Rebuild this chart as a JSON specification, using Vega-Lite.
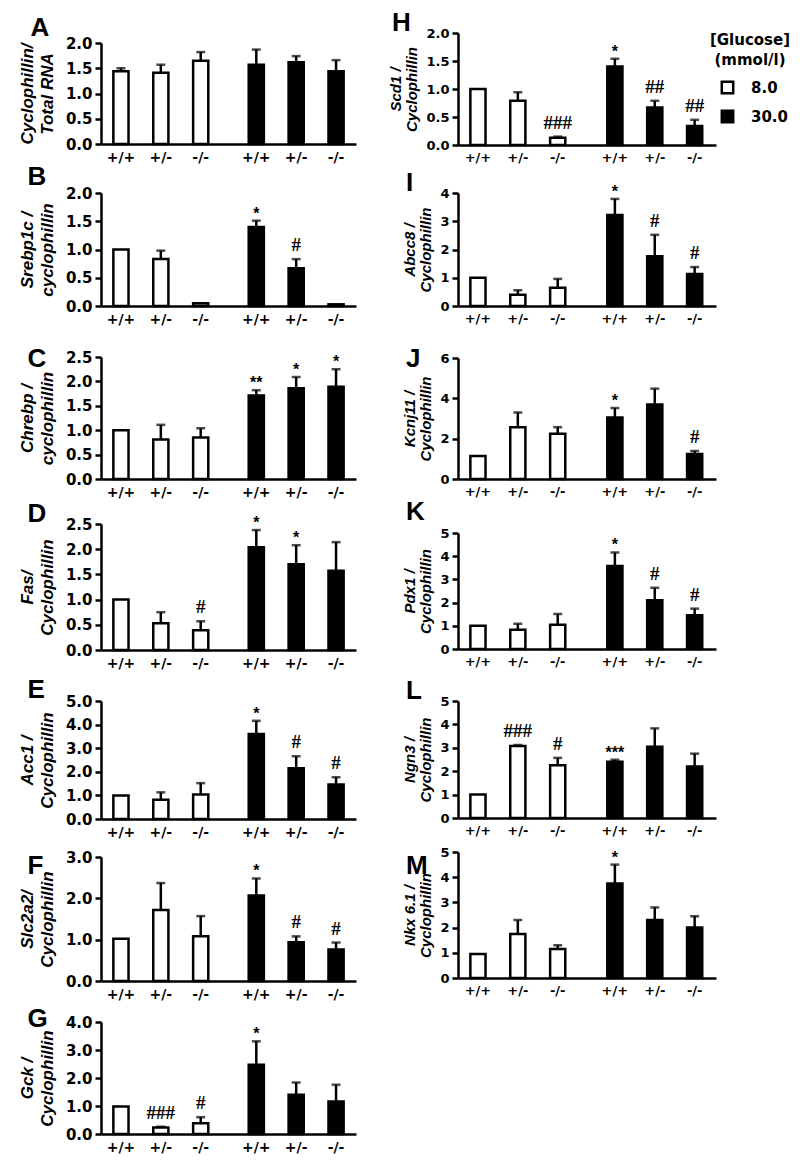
{
 "$schema": "https://vega.github.io/schema/vega-lite/v6.json",
 "background": "white",
 "padding": {"left": 18, "top": 9, "right": 5, "bottom": 5},
 "datasets": {"d": [
  {"p":"A","g":"8.0","k":"+/+","m":1.44,"e":1.50,"s":""},
  {"p":"A","g":"8.0","k":"+/-","m":1.41,"e":1.57,"s":""},
  {"p":"A","g":"8.0","k":"-/-","m":1.65,"e":1.82,"s":""},
  {"p":"A","g":"30.0","k":"+/+","m":1.57,"e":1.87,"s":""},
  {"p":"A","g":"30.0","k":"+/-","m":1.62,"e":1.74,"s":""},
  {"p":"A","g":"30.0","k":"-/-","m":1.44,"e":1.66,"s":""},
  {"p":"B","g":"8.0","k":"+/+","m":1.0,"e":null,"s":""},
  {"p":"B","g":"8.0","k":"+/-","m":0.83,"e":0.98,"s":""},
  {"p":"B","g":"8.0","k":"-/-","m":0.05,"e":null,"s":""},
  {"p":"B","g":"30.0","k":"+/+","m":1.40,"e":1.51,"s":"*"},
  {"p":"B","g":"30.0","k":"+/-","m":0.67,"e":0.83,"s":"#"},
  {"p":"B","g":"30.0","k":"-/-","m":0.03,"e":null,"s":""},
  {"p":"C","g":"8.0","k":"+/+","m":1.0,"e":null,"s":""},
  {"p":"C","g":"8.0","k":"+/-","m":0.81,"e":1.11,"s":""},
  {"p":"C","g":"8.0","k":"-/-","m":0.85,"e":1.04,"s":""},
  {"p":"C","g":"30.0","k":"+/+","m":1.71,"e":1.82,"s":"**"},
  {"p":"C","g":"30.0","k":"+/-","m":1.86,"e":2.09,"s":"*"},
  {"p":"C","g":"30.0","k":"-/-","m":1.89,"e":2.25,"s":"*"},
  {"p":"D","g":"8.0","k":"+/+","m":1.0,"e":null,"s":""},
  {"p":"D","g":"8.0","k":"+/-","m":0.53,"e":0.75,"s":""},
  {"p":"D","g":"8.0","k":"-/-","m":0.39,"e":0.57,"s":"#"},
  {"p":"D","g":"30.0","k":"+/+","m":2.04,"e":2.38,"s":"*"},
  {"p":"D","g":"30.0","k":"+/-","m":1.70,"e":2.08,"s":"*"},
  {"p":"D","g":"30.0","k":"-/-","m":1.57,"e":2.14,"s":""},
  {"p":"E","g":"8.0","k":"+/+","m":1.0,"e":null,"s":""},
  {"p":"E","g":"8.0","k":"+/-","m":0.82,"e":1.13,"s":""},
  {"p":"E","g":"8.0","k":"-/-","m":1.04,"e":1.52,"s":""},
  {"p":"E","g":"30.0","k":"+/+","m":3.60,"e":4.16,"s":"*"},
  {"p":"E","g":"30.0","k":"+/-","m":2.15,"e":2.66,"s":"#"},
  {"p":"E","g":"30.0","k":"-/-","m":1.46,"e":1.77,"s":"#"},
  {"p":"F","g":"8.0","k":"+/+","m":1.02,"e":null,"s":""},
  {"p":"F","g":"8.0","k":"+/-","m":1.72,"e":2.37,"s":""},
  {"p":"F","g":"8.0","k":"-/-","m":1.08,"e":1.57,"s":""},
  {"p":"F","g":"30.0","k":"+/+","m":2.07,"e":2.48,"s":"*"},
  {"p":"F","g":"30.0","k":"+/-","m":0.94,"e":1.08,"s":"#"},
  {"p":"F","g":"30.0","k":"-/-","m":0.76,"e":0.93,"s":"#"},
  {"p":"G","g":"8.0","k":"+/+","m":0.98,"e":null,"s":""},
  {"p":"G","g":"8.0","k":"+/-","m":0.23,"e":0.26,"s":"###"},
  {"p":"G","g":"8.0","k":"-/-","m":0.38,"e":0.60,"s":"#"},
  {"p":"G","g":"30.0","k":"+/+","m":2.47,"e":3.31,"s":"*"},
  {"p":"G","g":"30.0","k":"+/-","m":1.40,"e":1.84,"s":""},
  {"p":"G","g":"30.0","k":"-/-","m":1.16,"e":1.76,"s":""},
  {"p":"H","g":"8.0","k":"+/+","m":1.0,"e":null,"s":""},
  {"p":"H","g":"8.0","k":"+/-","m":0.79,"e":0.94,"s":""},
  {"p":"H","g":"8.0","k":"-/-","m":0.13,"e":0.15,"s":"###"},
  {"p":"H","g":"30.0","k":"+/+","m":1.40,"e":1.54,"s":"*"},
  {"p":"H","g":"30.0","k":"+/-","m":0.67,"e":0.79,"s":"##"},
  {"p":"H","g":"30.0","k":"-/-","m":0.34,"e":0.45,"s":"##"},
  {"p":"I","g":"8.0","k":"+/+","m":1.0,"e":null,"s":""},
  {"p":"I","g":"8.0","k":"+/-","m":0.40,"e":0.56,"s":""},
  {"p":"I","g":"8.0","k":"-/-","m":0.65,"e":0.96,"s":""},
  {"p":"I","g":"30.0","k":"+/+","m":3.22,"e":3.79,"s":"*"},
  {"p":"I","g":"30.0","k":"+/-","m":1.76,"e":2.52,"s":"#"},
  {"p":"I","g":"30.0","k":"-/-","m":1.13,"e":1.38,"s":"#"},
  {"p":"J","g":"8.0","k":"+/+","m":1.14,"e":null,"s":""},
  {"p":"J","g":"8.0","k":"+/-","m":2.57,"e":3.30,"s":""},
  {"p":"J","g":"8.0","k":"-/-","m":2.25,"e":2.57,"s":""},
  {"p":"J","g":"30.0","k":"+/+","m":3.05,"e":3.52,"s":"*"},
  {"p":"J","g":"30.0","k":"+/-","m":3.70,"e":4.48,"s":""},
  {"p":"J","g":"30.0","k":"-/-","m":1.24,"e":1.39,"s":"#"},
  {"p":"K","g":"8.0","k":"+/+","m":1.0,"e":null,"s":""},
  {"p":"K","g":"8.0","k":"+/-","m":0.83,"e":1.09,"s":""},
  {"p":"K","g":"8.0","k":"-/-","m":1.04,"e":1.51,"s":""},
  {"p":"K","g":"30.0","k":"+/+","m":3.58,"e":4.16,"s":"*"},
  {"p":"K","g":"30.0","k":"+/-","m":2.10,"e":2.64,"s":"#"},
  {"p":"K","g":"30.0","k":"-/-","m":1.45,"e":1.74,"s":"#"},
  {"p":"L","g":"8.0","k":"+/+","m":1.0,"e":null,"s":""},
  {"p":"L","g":"8.0","k":"+/-","m":3.08,"e":3.12,"s":"###"},
  {"p":"L","g":"8.0","k":"-/-","m":2.25,"e":2.57,"s":"#"},
  {"p":"L","g":"30.0","k":"+/+","m":2.40,"e":2.49,"s":"***"},
  {"p":"L","g":"30.0","k":"+/-","m":3.05,"e":3.83,"s":""},
  {"p":"L","g":"30.0","k":"-/-","m":2.20,"e":2.75,"s":""},
  {"p":"M","g":"8.0","k":"+/+","m":0.95,"e":null,"s":""},
  {"p":"M","g":"8.0","k":"+/-","m":1.75,"e":2.30,"s":""},
  {"p":"M","g":"8.0","k":"-/-","m":1.15,"e":1.30,"s":""},
  {"p":"M","g":"30.0","k":"+/+","m":3.75,"e":4.50,"s":"*"},
  {"p":"M","g":"30.0","k":"+/-","m":2.30,"e":2.80,"s":""},
  {"p":"M","g":"30.0","k":"-/-","m":2.00,"e":2.45,"s":""}
 ]},
 "data": {"name": "d"},
 "spacing": 32,
 "hconcat": [
  {"spacing": 0, "bounds": "flush", "vconcat": [
   {"width": 255, "height": 10, "data": {"values": []}, "mark": "point"},
   {"title": {"text": "A", "offset": -4.5, "dx": 12}, "width": 255, "height": 101,
    "transform": [{"filter": "datum.p == 'A'"}],
    "encoding": {"x": {"field": "g", "type": "nominal", "sort": ["8.0","30.0"], "scale": {"paddingInner": 0.116, "paddingOuter": 0}, "axis": {"labels": false, "ticks": false, "title": null}},
                 "xOffset": {"field": "k", "type": "nominal", "sort": ["+/+","+/-","-/-"], "scale": {"paddingInner": 0.62, "paddingOuter": 0.31}},
                 "y": {"field": "m", "type": "quantitative", "scale": {"domain": [0,2], "nice": false}, "axis": {"values": [0,0.5,1,1.5,2], "format": ".1f", "labelOverlap": false, "title": ["Cyclophillin/","Total RNA"]}}},
    "layer": [
     {"mark": {"type": "bar", "stroke": "black", "strokeWidth": 2.5}, "encoding": {"fill": {"field": "g", "type": "nominal", "scale": {"domain": ["8.0","30.0"], "range": ["white","black"]}, "legend": {"title": ["[Glucose]","(mmol/l)"]}}}},
     {"transform": [{"filter": "isValid(datum.e)"}], "mark": {"type": "rule", "color": "black", "strokeWidth": 2.5}, "encoding": {"y2": {"field": "e"}}},
     {"transform": [{"filter": "isValid(datum.e)"}], "mark": {"type": "tick", "orient": "horizontal", "color": "black", "size": 9, "thickness": 2.5}, "encoding": {"y": {"field": "e", "type": "quantitative", "axis": {"values": [0,0.5,1,1.5,2], "format": ".1f", "labelOverlap": false, "title": ["Cyclophillin/","Total RNA"]}}}},
     {"mark": {"type": "text", "fontWeight": "bold", "fontSize": 14, "baseline": "top", "dy": 7, "color": "black"}, "encoding": {"y": {"datum": 0, "type": "quantitative", "axis": {"values": [0,0.5,1,1.5,2], "format": ".1f", "labelOverlap": false, "title": ["Cyclophillin/","Total RNA"]}}, "text": {"field": "k"}}}
    ]},
   {"width": 255, "height": 49, "data": {"values": []}, "mark": "point"},
   {"title": {"text": "B", "offset": -3.5, "dx": 9}, "width": 255, "height": 113,
    "transform": [{"filter": "datum.p == 'B'"}],
    "encoding": {"x": {"field": "g", "type": "nominal", "sort": ["8.0","30.0"], "scale": {"paddingInner": 0.116, "paddingOuter": 0}, "axis": {"labels": false, "ticks": false, "title": null}},
                 "xOffset": {"field": "k", "type": "nominal", "sort": ["+/+","+/-","-/-"], "scale": {"paddingInner": 0.62, "paddingOuter": 0.31}},
                 "y": {"field": "m", "type": "quantitative", "scale": {"domain": [0,2], "nice": false}, "axis": {"values": [0,0.5,1,1.5,2], "format": ".1f", "labelOverlap": false, "title": ["Srebp1c /","cyclophillin"]}}},
    "layer": [
     {"mark": {"type": "bar", "stroke": "black", "strokeWidth": 2.5}, "encoding": {"fill": {"field": "g", "type": "nominal", "scale": {"domain": ["8.0","30.0"], "range": ["white","black"]}, "legend": {"title": ["[Glucose]","(mmol/l)"]}}}},
     {"transform": [{"filter": "isValid(datum.e)"}], "mark": {"type": "rule", "color": "black", "strokeWidth": 2.5}, "encoding": {"y2": {"field": "e"}}},
     {"transform": [{"filter": "isValid(datum.e)"}], "mark": {"type": "tick", "orient": "horizontal", "color": "black", "size": 9, "thickness": 2.5}, "encoding": {"y": {"field": "e", "type": "quantitative", "axis": {"values": [0,0.5,1,1.5,2], "format": ".1f", "labelOverlap": false, "title": ["Srebp1c /","cyclophillin"]}}}},
     {"transform": [{"filter": "indexof(datum.s, '*') >= 0"}], "mark": {"type": "text", "font": "Liberation Sans", "fontWeight": "bold", "fontSize": 16, "baseline": "alphabetic", "dy": -2, "color": "black"}, "encoding": {"y": {"field": "e", "type": "quantitative", "axis": {"values": [0,0.5,1,1.5,2], "format": ".1f", "labelOverlap": false, "title": ["Srebp1c /","cyclophillin"]}}, "text": {"field": "s"}}},
     {"transform": [{"filter": "indexof(datum.s, '#') >= 0"}], "mark": {"type": "text", "font": "Liberation Serif", "fontWeight": "bold", "fontSize": 19, "baseline": "alphabetic", "dy": -8, "color": "black"}, "encoding": {"y": {"field": "e", "type": "quantitative", "axis": {"values": [0,0.5,1,1.5,2], "format": ".1f", "labelOverlap": false, "title": ["Srebp1c /","cyclophillin"]}}, "text": {"field": "s"}}},
     {"mark": {"type": "text", "fontWeight": "bold", "fontSize": 14, "baseline": "top", "dy": 7, "color": "black"}, "encoding": {"y": {"datum": 0, "type": "quantitative", "axis": {"values": [0,0.5,1,1.5,2], "format": ".1f", "labelOverlap": false, "title": ["Srebp1c /","cyclophillin"]}}, "text": {"field": "k"}}}
    ]},
   {"width": 255, "height": 51, "data": {"values": []}, "mark": "point"},
   {"title": {"text": "C", "offset": -21.5, "dx": 9}, "width": 255, "height": 122,
    "transform": [{"filter": "datum.p == 'C'"}],
    "encoding": {"x": {"field": "g", "type": "nominal", "sort": ["8.0","30.0"], "scale": {"paddingInner": 0.116, "paddingOuter": 0}, "axis": {"labels": false, "ticks": false, "title": null}},
                 "xOffset": {"field": "k", "type": "nominal", "sort": ["+/+","+/-","-/-"], "scale": {"paddingInner": 0.62, "paddingOuter": 0.31}},
                 "y": {"field": "m", "type": "quantitative", "scale": {"domain": [0,2.5], "nice": false}, "axis": {"values": [0,0.5,1,1.5,2,2.5], "format": ".1f", "labelOverlap": false, "title": ["Chrebp /","cyclophillin"]}}},
    "layer": [
     {"mark": {"type": "bar", "stroke": "black", "strokeWidth": 2.5}, "encoding": {"fill": {"field": "g", "type": "nominal", "scale": {"domain": ["8.0","30.0"], "range": ["white","black"]}, "legend": {"title": ["[Glucose]","(mmol/l)"]}}}},
     {"transform": [{"filter": "isValid(datum.e)"}], "mark": {"type": "rule", "color": "black", "strokeWidth": 2.5}, "encoding": {"y2": {"field": "e"}}},
     {"transform": [{"filter": "isValid(datum.e)"}], "mark": {"type": "tick", "orient": "horizontal", "color": "black", "size": 9, "thickness": 2.5}, "encoding": {"y": {"field": "e", "type": "quantitative", "axis": {"values": [0,0.5,1,1.5,2,2.5], "format": ".1f", "labelOverlap": false, "title": ["Chrebp /","cyclophillin"]}}}},
     {"transform": [{"filter": "indexof(datum.s, '*') >= 0"}], "mark": {"type": "text", "font": "Liberation Sans", "fontWeight": "bold", "fontSize": 16, "baseline": "alphabetic", "dy": -2, "color": "black"}, "encoding": {"y": {"field": "e", "type": "quantitative", "axis": {"values": [0,0.5,1,1.5,2,2.5], "format": ".1f", "labelOverlap": false, "title": ["Chrebp /","cyclophillin"]}}, "text": {"field": "s"}}},
     {"mark": {"type": "text", "fontWeight": "bold", "fontSize": 14, "baseline": "top", "dy": 7, "color": "black"}, "encoding": {"y": {"datum": 0, "type": "quantitative", "axis": {"values": [0,0.5,1,1.5,2,2.5], "format": ".1f", "labelOverlap": false, "title": ["Chrebp /","cyclophillin"]}}, "text": {"field": "k"}}}
    ]},
   {"width": 255, "height": 45, "data": {"values": []}, "mark": "point"},
   {"title": {"text": "D", "offset": -12, "dx": 9}, "width": 255, "height": 126,
    "transform": [{"filter": "datum.p == 'D'"}],
    "encoding": {"x": {"field": "g", "type": "nominal", "sort": ["8.0","30.0"], "scale": {"paddingInner": 0.116, "paddingOuter": 0}, "axis": {"labels": false, "ticks": false, "title": null}},
                 "xOffset": {"field": "k", "type": "nominal", "sort": ["+/+","+/-","-/-"], "scale": {"paddingInner": 0.62, "paddingOuter": 0.31}},
                 "y": {"field": "m", "type": "quantitative", "scale": {"domain": [0,2.5], "nice": false}, "axis": {"values": [0,0.5,1,1.5,2,2.5], "format": ".1f", "labelOverlap": false, "title": ["Fas/","Cyclophillin"]}}},
    "layer": [
     {"mark": {"type": "bar", "stroke": "black", "strokeWidth": 2.5}, "encoding": {"fill": {"field": "g", "type": "nominal", "scale": {"domain": ["8.0","30.0"], "range": ["white","black"]}, "legend": {"title": ["[Glucose]","(mmol/l)"]}}}},
     {"transform": [{"filter": "isValid(datum.e)"}], "mark": {"type": "rule", "color": "black", "strokeWidth": 2.5}, "encoding": {"y2": {"field": "e"}}},
     {"transform": [{"filter": "isValid(datum.e)"}], "mark": {"type": "tick", "orient": "horizontal", "color": "black", "size": 9, "thickness": 2.5}, "encoding": {"y": {"field": "e", "type": "quantitative", "axis": {"values": [0,0.5,1,1.5,2,2.5], "format": ".1f", "labelOverlap": false, "title": ["Fas/","Cyclophillin"]}}}},
     {"transform": [{"filter": "indexof(datum.s, '*') >= 0"}], "mark": {"type": "text", "font": "Liberation Sans", "fontWeight": "bold", "fontSize": 16, "baseline": "alphabetic", "dy": -2, "color": "black"}, "encoding": {"y": {"field": "e", "type": "quantitative", "axis": {"values": [0,0.5,1,1.5,2,2.5], "format": ".1f", "labelOverlap": false, "title": ["Fas/","Cyclophillin"]}}, "text": {"field": "s"}}},
     {"transform": [{"filter": "indexof(datum.s, '#') >= 0"}], "mark": {"type": "text", "font": "Liberation Serif", "fontWeight": "bold", "fontSize": 19, "baseline": "alphabetic", "dy": -8, "color": "black"}, "encoding": {"y": {"field": "e", "type": "quantitative", "axis": {"values": [0,0.5,1,1.5,2,2.5], "format": ".1f", "labelOverlap": false, "title": ["Fas/","Cyclophillin"]}}, "text": {"field": "s"}}},
     {"mark": {"type": "text", "fontWeight": "bold", "fontSize": 14, "baseline": "top", "dy": 7, "color": "black"}, "encoding": {"y": {"datum": 0, "type": "quantitative", "axis": {"values": [0,0.5,1,1.5,2,2.5], "format": ".1f", "labelOverlap": false, "title": ["Fas/","Cyclophillin"]}}, "text": {"field": "k"}}}
    ]},
   {"width": 255, "height": 51, "data": {"values": []}, "mark": "point"},
   {"title": {"text": "E", "offset": -8.5, "dx": 9}, "width": 255, "height": 118,
    "transform": [{"filter": "datum.p == 'E'"}],
    "encoding": {"x": {"field": "g", "type": "nominal", "sort": ["8.0","30.0"], "scale": {"paddingInner": 0.116, "paddingOuter": 0}, "axis": {"labels": false, "ticks": false, "title": null}},
                 "xOffset": {"field": "k", "type": "nominal", "sort": ["+/+","+/-","-/-"], "scale": {"paddingInner": 0.62, "paddingOuter": 0.31}},
                 "y": {"field": "m", "type": "quantitative", "scale": {"domain": [0,5], "nice": false}, "axis": {"values": [0,1,2,3,4,5], "format": ".1f", "labelOverlap": false, "title": ["Acc1 /","Cyclophillin"]}}},
    "layer": [
     {"mark": {"type": "bar", "stroke": "black", "strokeWidth": 2.5}, "encoding": {"fill": {"field": "g", "type": "nominal", "scale": {"domain": ["8.0","30.0"], "range": ["white","black"]}, "legend": {"title": ["[Glucose]","(mmol/l)"]}}}},
     {"transform": [{"filter": "isValid(datum.e)"}], "mark": {"type": "rule", "color": "black", "strokeWidth": 2.5}, "encoding": {"y2": {"field": "e"}}},
     {"transform": [{"filter": "isValid(datum.e)"}], "mark": {"type": "tick", "orient": "horizontal", "color": "black", "size": 9, "thickness": 2.5}, "encoding": {"y": {"field": "e", "type": "quantitative", "axis": {"values": [0,1,2,3,4,5], "format": ".1f", "labelOverlap": false, "title": ["Acc1 /","Cyclophillin"]}}}},
     {"transform": [{"filter": "indexof(datum.s, '*') >= 0"}], "mark": {"type": "text", "font": "Liberation Sans", "fontWeight": "bold", "fontSize": 16, "baseline": "alphabetic", "dy": -2, "color": "black"}, "encoding": {"y": {"field": "e", "type": "quantitative", "axis": {"values": [0,1,2,3,4,5], "format": ".1f", "labelOverlap": false, "title": ["Acc1 /","Cyclophillin"]}}, "text": {"field": "s"}}},
     {"transform": [{"filter": "indexof(datum.s, '#') >= 0"}], "mark": {"type": "text", "font": "Liberation Serif", "fontWeight": "bold", "fontSize": 19, "baseline": "alphabetic", "dy": -8, "color": "black"}, "encoding": {"y": {"field": "e", "type": "quantitative", "axis": {"values": [0,1,2,3,4,5], "format": ".1f", "labelOverlap": false, "title": ["Acc1 /","Cyclophillin"]}}, "text": {"field": "s"}}},
     {"mark": {"type": "text", "fontWeight": "bold", "fontSize": 14, "baseline": "top", "dy": 7, "color": "black"}, "encoding": {"y": {"datum": 0, "type": "quantitative", "axis": {"values": [0,1,2,3,4,5], "format": ".1f", "labelOverlap": false, "title": ["Acc1 /","Cyclophillin"]}}, "text": {"field": "k"}}}
    ]},
   {"width": 255, "height": 38, "data": {"values": []}, "mark": "point"},
   {"title": {"text": "F", "offset": -28.5, "dx": 9}, "width": 255, "height": 124,
    "transform": [{"filter": "datum.p == 'F'"}],
    "encoding": {"x": {"field": "g", "type": "nominal", "sort": ["8.0","30.0"], "scale": {"paddingInner": 0.116, "paddingOuter": 0}, "axis": {"labels": false, "ticks": false, "title": null}},
                 "xOffset": {"field": "k", "type": "nominal", "sort": ["+/+","+/-","-/-"], "scale": {"paddingInner": 0.62, "paddingOuter": 0.31}},
                 "y": {"field": "m", "type": "quantitative", "scale": {"domain": [0,3], "nice": false}, "axis": {"values": [0,1,2,3], "format": ".1f", "labelOverlap": false, "title": ["Slc2a2/","Cyclophillin"]}}},
    "layer": [
     {"mark": {"type": "bar", "stroke": "black", "strokeWidth": 2.5}, "encoding": {"fill": {"field": "g", "type": "nominal", "scale": {"domain": ["8.0","30.0"], "range": ["white","black"]}, "legend": {"title": ["[Glucose]","(mmol/l)"]}}}},
     {"transform": [{"filter": "isValid(datum.e)"}], "mark": {"type": "rule", "color": "black", "strokeWidth": 2.5}, "encoding": {"y2": {"field": "e"}}},
     {"transform": [{"filter": "isValid(datum.e)"}], "mark": {"type": "tick", "orient": "horizontal", "color": "black", "size": 9, "thickness": 2.5}, "encoding": {"y": {"field": "e", "type": "quantitative", "axis": {"values": [0,1,2,3], "format": ".1f", "labelOverlap": false, "title": ["Slc2a2/","Cyclophillin"]}}}},
     {"transform": [{"filter": "indexof(datum.s, '*') >= 0"}], "mark": {"type": "text", "font": "Liberation Sans", "fontWeight": "bold", "fontSize": 16, "baseline": "alphabetic", "dy": -2, "color": "black"}, "encoding": {"y": {"field": "e", "type": "quantitative", "axis": {"values": [0,1,2,3], "format": ".1f", "labelOverlap": false, "title": ["Slc2a2/","Cyclophillin"]}}, "text": {"field": "s"}}},
     {"transform": [{"filter": "indexof(datum.s, '#') >= 0"}], "mark": {"type": "text", "font": "Liberation Serif", "fontWeight": "bold", "fontSize": 19, "baseline": "alphabetic", "dy": -8, "color": "black"}, "encoding": {"y": {"field": "e", "type": "quantitative", "axis": {"values": [0,1,2,3], "format": ".1f", "labelOverlap": false, "title": ["Slc2a2/","Cyclophillin"]}}, "text": {"field": "s"}}},
     {"mark": {"type": "text", "fontWeight": "bold", "fontSize": 14, "baseline": "top", "dy": 7, "color": "black"}, "encoding": {"y": {"datum": 0, "type": "quantitative", "axis": {"values": [0,1,2,3], "format": ".1f", "labelOverlap": false, "title": ["Slc2a2/","Cyclophillin"]}}, "text": {"field": "k"}}}
    ]},
   {"width": 255, "height": 41, "data": {"values": []}, "mark": "point"},
   {"title": {"text": "G", "offset": -16.5, "dx": 9}, "width": 255, "height": 112,
    "transform": [{"filter": "datum.p == 'G'"}],
    "encoding": {"x": {"field": "g", "type": "nominal", "sort": ["8.0","30.0"], "scale": {"paddingInner": 0.116, "paddingOuter": 0}, "axis": {"labels": false, "ticks": false, "title": null}},
                 "xOffset": {"field": "k", "type": "nominal", "sort": ["+/+","+/-","-/-"], "scale": {"paddingInner": 0.62, "paddingOuter": 0.31}},
                 "y": {"field": "m", "type": "quantitative", "scale": {"domain": [0,4], "nice": false}, "axis": {"values": [0,1,2,3,4], "format": ".1f", "labelOverlap": false, "title": ["Gck /","Cyclophillin"]}}},
    "layer": [
     {"mark": {"type": "bar", "stroke": "black", "strokeWidth": 2.5}, "encoding": {"fill": {"field": "g", "type": "nominal", "scale": {"domain": ["8.0","30.0"], "range": ["white","black"]}, "legend": {"title": ["[Glucose]","(mmol/l)"]}}}},
     {"transform": [{"filter": "isValid(datum.e)"}], "mark": {"type": "rule", "color": "black", "strokeWidth": 2.5}, "encoding": {"y2": {"field": "e"}}},
     {"transform": [{"filter": "isValid(datum.e)"}], "mark": {"type": "tick", "orient": "horizontal", "color": "black", "size": 9, "thickness": 2.5}, "encoding": {"y": {"field": "e", "type": "quantitative", "axis": {"values": [0,1,2,3,4], "format": ".1f", "labelOverlap": false, "title": ["Gck /","Cyclophillin"]}}}},
     {"transform": [{"filter": "indexof(datum.s, '*') >= 0"}], "mark": {"type": "text", "font": "Liberation Sans", "fontWeight": "bold", "fontSize": 16, "baseline": "alphabetic", "dy": -2, "color": "black"}, "encoding": {"y": {"field": "e", "type": "quantitative", "axis": {"values": [0,1,2,3,4], "format": ".1f", "labelOverlap": false, "title": ["Gck /","Cyclophillin"]}}, "text": {"field": "s"}}},
     {"transform": [{"filter": "indexof(datum.s, '#') >= 0"}], "mark": {"type": "text", "font": "Liberation Serif", "fontWeight": "bold", "fontSize": 19, "baseline": "alphabetic", "dy": -8, "color": "black"}, "encoding": {"y": {"field": "e", "type": "quantitative", "axis": {"values": [0,1,2,3,4], "format": ".1f", "labelOverlap": false, "title": ["Gck /","Cyclophillin"]}}, "text": {"field": "s"}}},
     {"mark": {"type": "text", "fontWeight": "bold", "fontSize": 14, "baseline": "top", "dy": 7, "color": "black"}, "encoding": {"y": {"datum": 0, "type": "quantitative", "axis": {"values": [0,1,2,3,4], "format": ".1f", "labelOverlap": false, "title": ["Gck /","Cyclophillin"]}}, "text": {"field": "k"}}}
    ]}
  ]},
  {"spacing": 0, "bounds": "flush", "vconcat": [
   {"title": {"text": "H", "offset": -8.5, "dx": 3}, "width": 258, "height": 112,
    "transform": [{"filter": "datum.p == 'H'"}],
    "encoding": {"x": {"field": "g", "type": "nominal", "sort": ["8.0","30.0"], "scale": {"paddingInner": 0.116, "paddingOuter": 0}, "axis": {"labels": false, "ticks": false, "title": null}},
                 "xOffset": {"field": "k", "type": "nominal", "sort": ["+/+","+/-","-/-"], "scale": {"paddingInner": 0.62, "paddingOuter": 0.31}},
                 "y": {"field": "m", "type": "quantitative", "scale": {"domain": [0,2], "nice": false}, "axis": {"values": [0,0.5,1,1.5,2], "format": ".1f", "labelOverlap": false, "labelFontSize": 13, "titleFontSize": 15, "titleLineHeight": 16, "titlePadding": 6, "title": ["Scd1 /","Cyclophillin"]}}},
    "layer": [
     {"mark": {"type": "bar", "stroke": "black", "strokeWidth": 2.5}, "encoding": {"fill": {"field": "g", "type": "nominal", "scale": {"domain": ["8.0","30.0"], "range": ["white","black"]}, "legend": {"title": ["[Glucose]","(mmol/l)"]}}}},
     {"transform": [{"filter": "isValid(datum.e)"}], "mark": {"type": "rule", "color": "black", "strokeWidth": 2.5}, "encoding": {"y2": {"field": "e"}}},
     {"transform": [{"filter": "isValid(datum.e)"}], "mark": {"type": "tick", "orient": "horizontal", "color": "black", "size": 9, "thickness": 2.5}, "encoding": {"y": {"field": "e", "type": "quantitative", "axis": {"values": [0,0.5,1,1.5,2], "format": ".1f", "labelOverlap": false, "labelFontSize": 13, "titleFontSize": 15, "titleLineHeight": 16, "titlePadding": 6, "title": ["Scd1 /","Cyclophillin"]}}}},
     {"transform": [{"filter": "indexof(datum.s, '*') >= 0"}], "mark": {"type": "text", "font": "Liberation Sans", "fontWeight": "bold", "fontSize": 16, "baseline": "alphabetic", "dy": -2, "color": "black"}, "encoding": {"y": {"field": "e", "type": "quantitative", "axis": {"values": [0,0.5,1,1.5,2], "format": ".1f", "labelOverlap": false, "labelFontSize": 13, "titleFontSize": 15, "titleLineHeight": 16, "titlePadding": 6, "title": ["Scd1 /","Cyclophillin"]}}, "text": {"field": "s"}}},
     {"transform": [{"filter": "indexof(datum.s, '#') >= 0"}], "mark": {"type": "text", "font": "Liberation Serif", "fontWeight": "bold", "fontSize": 19, "baseline": "alphabetic", "dy": -8, "color": "black"}, "encoding": {"y": {"field": "e", "type": "quantitative", "axis": {"values": [0,0.5,1,1.5,2], "format": ".1f", "labelOverlap": false, "labelFontSize": 13, "titleFontSize": 15, "titleLineHeight": 16, "titlePadding": 6, "title": ["Scd1 /","Cyclophillin"]}}, "text": {"field": "s"}}},
     {"mark": {"type": "text", "fontWeight": "bold", "fontSize": 13, "baseline": "top", "dy": 7, "color": "black"}, "encoding": {"y": {"datum": 0, "type": "quantitative", "axis": {"values": [0,0.5,1,1.5,2], "format": ".1f", "labelOverlap": false, "labelFontSize": 13, "titleFontSize": 15, "titleLineHeight": 16, "titlePadding": 6, "title": ["Scd1 /","Cyclophillin"]}}, "text": {"field": "k"}}}
    ]},
   {"width": 258, "height": 48, "data": {"values": []}, "mark": "point"},
   {"title": {"text": "I", "offset": -12, "dx": 3}, "width": 258, "height": 113,
    "transform": [{"filter": "datum.p == 'I'"}],
    "encoding": {"x": {"field": "g", "type": "nominal", "sort": ["8.0","30.0"], "scale": {"paddingInner": 0.116, "paddingOuter": 0}, "axis": {"labels": false, "ticks": false, "title": null}},
                 "xOffset": {"field": "k", "type": "nominal", "sort": ["+/+","+/-","-/-"], "scale": {"paddingInner": 0.62, "paddingOuter": 0.31}},
                 "y": {"field": "m", "type": "quantitative", "scale": {"domain": [0,4], "nice": false}, "axis": {"values": [0,1,2,3,4], "format": "d", "labelOverlap": false, "labelFontSize": 13, "titleFontSize": 15, "titleLineHeight": 16, "titlePadding": 6, "title": ["Abcc8 /","Cyclophillin"]}}},
    "layer": [
     {"mark": {"type": "bar", "stroke": "black", "strokeWidth": 2.5}, "encoding": {"fill": {"field": "g", "type": "nominal", "scale": {"domain": ["8.0","30.0"], "range": ["white","black"]}, "legend": {"title": ["[Glucose]","(mmol/l)"]}}}},
     {"transform": [{"filter": "isValid(datum.e)"}], "mark": {"type": "rule", "color": "black", "strokeWidth": 2.5}, "encoding": {"y2": {"field": "e"}}},
     {"transform": [{"filter": "isValid(datum.e)"}], "mark": {"type": "tick", "orient": "horizontal", "color": "black", "size": 9, "thickness": 2.5}, "encoding": {"y": {"field": "e", "type": "quantitative", "axis": {"values": [0,1,2,3,4], "format": "d", "labelOverlap": false, "labelFontSize": 13, "titleFontSize": 15, "titleLineHeight": 16, "titlePadding": 6, "title": ["Abcc8 /","Cyclophillin"]}}}},
     {"transform": [{"filter": "indexof(datum.s, '*') >= 0"}], "mark": {"type": "text", "font": "Liberation Sans", "fontWeight": "bold", "fontSize": 16, "baseline": "alphabetic", "dy": -2, "color": "black"}, "encoding": {"y": {"field": "e", "type": "quantitative", "axis": {"values": [0,1,2,3,4], "format": "d", "labelOverlap": false, "labelFontSize": 13, "titleFontSize": 15, "titleLineHeight": 16, "titlePadding": 6, "title": ["Abcc8 /","Cyclophillin"]}}, "text": {"field": "s"}}},
     {"transform": [{"filter": "indexof(datum.s, '#') >= 0"}], "mark": {"type": "text", "font": "Liberation Serif", "fontWeight": "bold", "fontSize": 19, "baseline": "alphabetic", "dy": -8, "color": "black"}, "encoding": {"y": {"field": "e", "type": "quantitative", "axis": {"values": [0,1,2,3,4], "format": "d", "labelOverlap": false, "labelFontSize": 13, "titleFontSize": 15, "titleLineHeight": 16, "titlePadding": 6, "title": ["Abcc8 /","Cyclophillin"]}}, "text": {"field": "s"}}},
     {"mark": {"type": "text", "fontWeight": "bold", "fontSize": 13, "baseline": "top", "dy": 7, "color": "black"}, "encoding": {"y": {"datum": 0, "type": "quantitative", "axis": {"values": [0,1,2,3,4], "format": "d", "labelOverlap": false, "labelFontSize": 13, "titleFontSize": 15, "titleLineHeight": 16, "titlePadding": 6, "title": ["Abcc8 /","Cyclophillin"]}}, "text": {"field": "k"}}}
    ]},
   {"width": 258, "height": 52, "data": {"values": []}, "mark": "point"},
   {"title": {"text": "J", "offset": -19.5, "dx": 3}, "width": 258, "height": 121,
    "transform": [{"filter": "datum.p == 'J'"}],
    "encoding": {"x": {"field": "g", "type": "nominal", "sort": ["8.0","30.0"], "scale": {"paddingInner": 0.116, "paddingOuter": 0}, "axis": {"labels": false, "ticks": false, "title": null}},
                 "xOffset": {"field": "k", "type": "nominal", "sort": ["+/+","+/-","-/-"], "scale": {"paddingInner": 0.62, "paddingOuter": 0.31}},
                 "y": {"field": "m", "type": "quantitative", "scale": {"domain": [0,6], "nice": false}, "axis": {"values": [0,2,4,6], "format": "d", "labelOverlap": false, "labelFontSize": 13, "titleFontSize": 15, "titleLineHeight": 16, "titlePadding": 6, "title": ["Kcnj11 /","Cyclophillin"]}}},
    "layer": [
     {"mark": {"type": "bar", "stroke": "black", "strokeWidth": 2.5}, "encoding": {"fill": {"field": "g", "type": "nominal", "scale": {"domain": ["8.0","30.0"], "range": ["white","black"]}, "legend": {"title": ["[Glucose]","(mmol/l)"]}}}},
     {"transform": [{"filter": "isValid(datum.e)"}], "mark": {"type": "rule", "color": "black", "strokeWidth": 2.5}, "encoding": {"y2": {"field": "e"}}},
     {"transform": [{"filter": "isValid(datum.e)"}], "mark": {"type": "tick", "orient": "horizontal", "color": "black", "size": 9, "thickness": 2.5}, "encoding": {"y": {"field": "e", "type": "quantitative", "axis": {"values": [0,2,4,6], "format": "d", "labelOverlap": false, "labelFontSize": 13, "titleFontSize": 15, "titleLineHeight": 16, "titlePadding": 6, "title": ["Kcnj11 /","Cyclophillin"]}}}},
     {"transform": [{"filter": "indexof(datum.s, '*') >= 0"}], "mark": {"type": "text", "font": "Liberation Sans", "fontWeight": "bold", "fontSize": 16, "baseline": "alphabetic", "dy": -2, "color": "black"}, "encoding": {"y": {"field": "e", "type": "quantitative", "axis": {"values": [0,2,4,6], "format": "d", "labelOverlap": false, "labelFontSize": 13, "titleFontSize": 15, "titleLineHeight": 16, "titlePadding": 6, "title": ["Kcnj11 /","Cyclophillin"]}}, "text": {"field": "s"}}},
     {"transform": [{"filter": "indexof(datum.s, '#') >= 0"}], "mark": {"type": "text", "font": "Liberation Serif", "fontWeight": "bold", "fontSize": 19, "baseline": "alphabetic", "dy": -8, "color": "black"}, "encoding": {"y": {"field": "e", "type": "quantitative", "axis": {"values": [0,2,4,6], "format": "d", "labelOverlap": false, "labelFontSize": 13, "titleFontSize": 15, "titleLineHeight": 16, "titlePadding": 6, "title": ["Kcnj11 /","Cyclophillin"]}}, "text": {"field": "s"}}},
     {"mark": {"type": "text", "fontWeight": "bold", "fontSize": 13, "baseline": "top", "dy": 7, "color": "black"}, "encoding": {"y": {"datum": 0, "type": "quantitative", "axis": {"values": [0,2,4,6], "format": "d", "labelOverlap": false, "labelFontSize": 13, "titleFontSize": 15, "titleLineHeight": 16, "titlePadding": 6, "title": ["Kcnj11 /","Cyclophillin"]}}, "text": {"field": "k"}}}
    ]},
   {"width": 258, "height": 54, "data": {"values": []}, "mark": "point"},
   {"title": {"text": "K", "offset": 2.5, "dx": 3}, "width": 258, "height": 116,
    "transform": [{"filter": "datum.p == 'K'"}],
    "encoding": {"x": {"field": "g", "type": "nominal", "sort": ["8.0","30.0"], "scale": {"paddingInner": 0.116, "paddingOuter": 0}, "axis": {"labels": false, "ticks": false, "title": null}},
                 "xOffset": {"field": "k", "type": "nominal", "sort": ["+/+","+/-","-/-"], "scale": {"paddingInner": 0.62, "paddingOuter": 0.31}},
                 "y": {"field": "m", "type": "quantitative", "scale": {"domain": [0,5], "nice": false}, "axis": {"values": [0,1,2,3,4,5], "format": "d", "labelOverlap": false, "labelFontSize": 13, "titleFontSize": 15, "titleLineHeight": 16, "titlePadding": 6, "title": ["Pdx1 /","Cyclophillin"]}}},
    "layer": [
     {"mark": {"type": "bar", "stroke": "black", "strokeWidth": 2.5}, "encoding": {"fill": {"field": "g", "type": "nominal", "scale": {"domain": ["8.0","30.0"], "range": ["white","black"]}, "legend": {"title": ["[Glucose]","(mmol/l)"]}}}},
     {"transform": [{"filter": "isValid(datum.e)"}], "mark": {"type": "rule", "color": "black", "strokeWidth": 2.5}, "encoding": {"y2": {"field": "e"}}},
     {"transform": [{"filter": "isValid(datum.e)"}], "mark": {"type": "tick", "orient": "horizontal", "color": "black", "size": 9, "thickness": 2.5}, "encoding": {"y": {"field": "e", "type": "quantitative", "axis": {"values": [0,1,2,3,4,5], "format": "d", "labelOverlap": false, "labelFontSize": 13, "titleFontSize": 15, "titleLineHeight": 16, "titlePadding": 6, "title": ["Pdx1 /","Cyclophillin"]}}}},
     {"transform": [{"filter": "indexof(datum.s, '*') >= 0"}], "mark": {"type": "text", "font": "Liberation Sans", "fontWeight": "bold", "fontSize": 16, "baseline": "alphabetic", "dy": -2, "color": "black"}, "encoding": {"y": {"field": "e", "type": "quantitative", "axis": {"values": [0,1,2,3,4,5], "format": "d", "labelOverlap": false, "labelFontSize": 13, "titleFontSize": 15, "titleLineHeight": 16, "titlePadding": 6, "title": ["Pdx1 /","Cyclophillin"]}}, "text": {"field": "s"}}},
     {"transform": [{"filter": "indexof(datum.s, '#') >= 0"}], "mark": {"type": "text", "font": "Liberation Serif", "fontWeight": "bold", "fontSize": 19, "baseline": "alphabetic", "dy": -8, "color": "black"}, "encoding": {"y": {"field": "e", "type": "quantitative", "axis": {"values": [0,1,2,3,4,5], "format": "d", "labelOverlap": false, "labelFontSize": 13, "titleFontSize": 15, "titleLineHeight": 16, "titlePadding": 6, "title": ["Pdx1 /","Cyclophillin"]}}, "text": {"field": "s"}}},
     {"mark": {"type": "text", "fontWeight": "bold", "fontSize": 13, "baseline": "top", "dy": 7, "color": "black"}, "encoding": {"y": {"datum": 0, "type": "quantitative", "axis": {"values": [0,1,2,3,4,5], "format": "d", "labelOverlap": false, "labelFontSize": 13, "titleFontSize": 15, "titleLineHeight": 16, "titlePadding": 6, "title": ["Pdx1 /","Cyclophillin"]}}, "text": {"field": "k"}}}
    ]},
   {"width": 258, "height": 52, "data": {"values": []}, "mark": "point"},
   {"title": {"text": "L", "offset": -8.5, "dx": 3}, "width": 258, "height": 117,
    "transform": [{"filter": "datum.p == 'L'"}],
    "encoding": {"x": {"field": "g", "type": "nominal", "sort": ["8.0","30.0"], "scale": {"paddingInner": 0.116, "paddingOuter": 0}, "axis": {"labels": false, "ticks": false, "title": null}},
                 "xOffset": {"field": "k", "type": "nominal", "sort": ["+/+","+/-","-/-"], "scale": {"paddingInner": 0.62, "paddingOuter": 0.31}},
                 "y": {"field": "m", "type": "quantitative", "scale": {"domain": [0,5], "nice": false}, "axis": {"values": [0,1,2,3,4,5], "format": "d", "labelOverlap": false, "labelFontSize": 13, "titleFontSize": 15, "titleLineHeight": 16, "titlePadding": 6, "title": ["Ngn3 /","Cyclophillin"]}}},
    "layer": [
     {"mark": {"type": "bar", "stroke": "black", "strokeWidth": 2.5}, "encoding": {"fill": {"field": "g", "type": "nominal", "scale": {"domain": ["8.0","30.0"], "range": ["white","black"]}, "legend": {"title": ["[Glucose]","(mmol/l)"]}}}},
     {"transform": [{"filter": "isValid(datum.e)"}], "mark": {"type": "rule", "color": "black", "strokeWidth": 2.5}, "encoding": {"y2": {"field": "e"}}},
     {"transform": [{"filter": "isValid(datum.e)"}], "mark": {"type": "tick", "orient": "horizontal", "color": "black", "size": 9, "thickness": 2.5}, "encoding": {"y": {"field": "e", "type": "quantitative", "axis": {"values": [0,1,2,3,4,5], "format": "d", "labelOverlap": false, "labelFontSize": 13, "titleFontSize": 15, "titleLineHeight": 16, "titlePadding": 6, "title": ["Ngn3 /","Cyclophillin"]}}}},
     {"transform": [{"filter": "indexof(datum.s, '*') >= 0"}], "mark": {"type": "text", "font": "Liberation Sans", "fontWeight": "bold", "fontSize": 16, "baseline": "alphabetic", "dy": -2, "color": "black"}, "encoding": {"y": {"field": "e", "type": "quantitative", "axis": {"values": [0,1,2,3,4,5], "format": "d", "labelOverlap": false, "labelFontSize": 13, "titleFontSize": 15, "titleLineHeight": 16, "titlePadding": 6, "title": ["Ngn3 /","Cyclophillin"]}}, "text": {"field": "s"}}},
     {"transform": [{"filter": "indexof(datum.s, '#') >= 0"}], "mark": {"type": "text", "font": "Liberation Serif", "fontWeight": "bold", "fontSize": 19, "baseline": "alphabetic", "dy": -8, "color": "black"}, "encoding": {"y": {"field": "e", "type": "quantitative", "axis": {"values": [0,1,2,3,4,5], "format": "d", "labelOverlap": false, "labelFontSize": 13, "titleFontSize": 15, "titleLineHeight": 16, "titlePadding": 6, "title": ["Ngn3 /","Cyclophillin"]}}, "text": {"field": "s"}}},
     {"mark": {"type": "text", "fontWeight": "bold", "fontSize": 13, "baseline": "top", "dy": 7, "color": "black"}, "encoding": {"y": {"datum": 0, "type": "quantitative", "axis": {"values": [0,1,2,3,4,5], "format": "d", "labelOverlap": false, "labelFontSize": 13, "titleFontSize": 15, "titleLineHeight": 16, "titlePadding": 6, "title": ["Ngn3 /","Cyclophillin"]}}, "text": {"field": "k"}}}
    ]},
   {"width": 258, "height": 34, "data": {"values": []}, "mark": "point"},
   {"title": {"text": "M", "offset": -32.5, "dx": 3}, "width": 258, "height": 126,
    "transform": [{"filter": "datum.p == 'M'"}],
    "encoding": {"x": {"field": "g", "type": "nominal", "sort": ["8.0","30.0"], "scale": {"paddingInner": 0.116, "paddingOuter": 0}, "axis": {"labels": false, "ticks": false, "title": null}},
                 "xOffset": {"field": "k", "type": "nominal", "sort": ["+/+","+/-","-/-"], "scale": {"paddingInner": 0.62, "paddingOuter": 0.31}},
                 "y": {"field": "m", "type": "quantitative", "scale": {"domain": [0,5], "nice": false}, "axis": {"values": [0,1,2,3,4,5], "format": "d", "labelOverlap": false, "labelFontSize": 13, "titleFontSize": 15, "titleLineHeight": 16, "titlePadding": 6, "title": ["Nkx 6.1 /","Cyclophillin"]}}},
    "layer": [
     {"mark": {"type": "bar", "stroke": "black", "strokeWidth": 2.5}, "encoding": {"fill": {"field": "g", "type": "nominal", "scale": {"domain": ["8.0","30.0"], "range": ["white","black"]}, "legend": {"title": ["[Glucose]","(mmol/l)"]}}}},
     {"transform": [{"filter": "isValid(datum.e)"}], "mark": {"type": "rule", "color": "black", "strokeWidth": 2.5}, "encoding": {"y2": {"field": "e"}}},
     {"transform": [{"filter": "isValid(datum.e)"}], "mark": {"type": "tick", "orient": "horizontal", "color": "black", "size": 9, "thickness": 2.5}, "encoding": {"y": {"field": "e", "type": "quantitative", "axis": {"values": [0,1,2,3,4,5], "format": "d", "labelOverlap": false, "labelFontSize": 13, "titleFontSize": 15, "titleLineHeight": 16, "titlePadding": 6, "title": ["Nkx 6.1 /","Cyclophillin"]}}}},
     {"transform": [{"filter": "indexof(datum.s, '*') >= 0"}], "mark": {"type": "text", "font": "Liberation Sans", "fontWeight": "bold", "fontSize": 16, "baseline": "alphabetic", "dy": -2, "color": "black"}, "encoding": {"y": {"field": "e", "type": "quantitative", "axis": {"values": [0,1,2,3,4,5], "format": "d", "labelOverlap": false, "labelFontSize": 13, "titleFontSize": 15, "titleLineHeight": 16, "titlePadding": 6, "title": ["Nkx 6.1 /","Cyclophillin"]}}, "text": {"field": "s"}}},
     {"mark": {"type": "text", "fontWeight": "bold", "fontSize": 13, "baseline": "top", "dy": 7, "color": "black"}, "encoding": {"y": {"datum": 0, "type": "quantitative", "axis": {"values": [0,1,2,3,4,5], "format": "d", "labelOverlap": false, "labelFontSize": 13, "titleFontSize": 15, "titleLineHeight": 16, "titlePadding": 6, "title": ["Nkx 6.1 /","Cyclophillin"]}}, "text": {"field": "k"}}}
    ]}
  ]}
 ],
 "config": {
  "font": "DejaVu Sans",
  "view": {"stroke": null},
  "axis": {"domainColor": "black", "domainWidth": 2.5, "tickColor": "black", "tickWidth": 2.5, "tickSize": 6, "labelFont": "DejaVu Sans", "labelFontWeight": "bold", "labelFontSize": 15, "labelColor": "black", "labelPadding": 3, "labelOverlap": false, "titleFont": "Liberation Sans", "titleFontWeight": "bold", "titleFontStyle": "italic", "titleFontSize": 17, "titleColor": "black", "titleLineHeight": 20, "titlePadding": 9, "grid": false},
  "title": {"font": "Liberation Sans", "fontSize": 26, "fontWeight": "bold", "anchor": "start", "frame": "bounds", "color": "black"},
  "legend": {"orient": "right", "offset": -6, "padding": 0, "titleFont": "DejaVu Sans", "titleFontSize": 15, "titleFontWeight": "bold", "titleColor": "black", "titleAlign": "center", "titleAnchor": "middle", "titleLineHeight": 20, "titlePadding": 12, "labelFont": "DejaVu Sans", "labelFontSize": 15, "labelFontWeight": "bold", "labelColor": "black", "labelOffset": 16, "symbolOffset": 9, "symbolType": "square", "symbolSize": 130, "symbolStrokeColor": "black", "symbolStrokeWidth": 2.5, "rowPadding": 6}
 }
}
